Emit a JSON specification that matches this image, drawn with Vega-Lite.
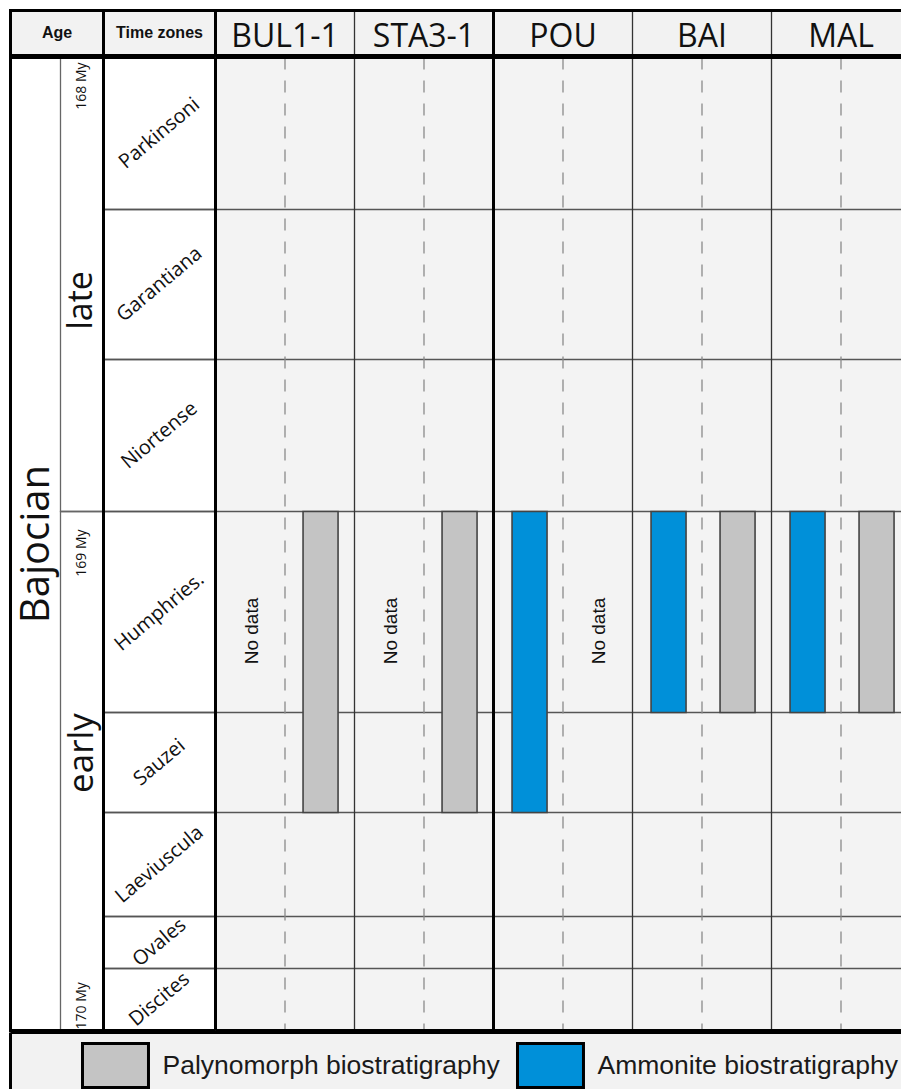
{
  "$schema": "https://vega.github.io/schema/vega-lite/v6.json",
  "background": "white",
  "padding": {"left": 8.5, "top": 8.5, "right": 0, "bottom": 0},
  "spacing": -3,
  "config": {
    "view": {"stroke": null},
    "concat": {"spacing": 0},
    "axis": {"disable": true},
    "legend": {"disable": true}
  },
  "datasets": {
    "zones": [
      {"zone": "Parkinsoni", "top": 0, "base": 152},
      {"zone": "Garantiana", "top": 152, "base": 302},
      {"zone": "Niortense", "top": 302, "base": 454},
      {"zone": "Humphries.", "top": 454, "base": 655},
      {"zone": "Sauzei", "top": 655, "base": 755},
      {"zone": "Laeviuscula", "top": 755, "base": 859},
      {"zone": "Ovales", "top": 859, "base": 911},
      {"zone": "Discites", "top": 911, "base": 973}
    ],
    "substages": [
      {"substage": "late", "top": 0, "base": 454},
      {"substage": "early", "top": 454, "base": 973}
    ],
    "sites": [
      {"site": "BUL1-1"}, {"site": "STA3-1"}, {"site": "POU"}, {"site": "BAI"}, {"site": "MAL"}
    ],
    "legend": [
      {"record": "Palynomorph", "label": "Palynomorph biostratigraphy"},
      {"record": "Ammonite", "label": "Ammonite biostratigraphy"}
    ]
  },
  "vconcat": [
    {
      "bounds": "flush",
      "spacing": 0,
      "hconcat": [
        {
          "width": 93, "height": 45,
          "view": {"fill": "#f2f2f2"},
          "data": {"values": [{"heading": "Age"}]},
          "layer": [
            {"mark": {"type": "text", "font": "Liberation Sans", "fontWeight": "bold", "fontSize": 16, "color": "#111"},
             "encoding": {"text": {"field": "heading"}}},
            {"mark": {"type": "rect", "fill": "transparent", "stroke": "black", "strokeWidth": 3}, "encoding": {}}
          ]
        },
        {
          "width": 112, "height": 45,
          "view": {"fill": "#f2f2f2"},
          "data": {"values": [{"heading": "Time zones"}]},
          "layer": [
            {"mark": {"type": "text", "font": "Liberation Sans", "fontWeight": "bold", "fontSize": 16, "color": "#111"},
             "encoding": {"text": {"field": "heading"}}},
            {"mark": {"type": "rect", "fill": "transparent", "stroke": "black", "strokeWidth": 3}, "encoding": {}}
          ]
        },
        {
          "width": 686, "height": 45,
          "view": {"fill": "#f2f2f2"},
          "data": {"name": "sites"},
          "layer": [
            {"mark": {"type": "text", "font": "Open Sans", "fontSize": 32, "color": "#111"},
             "encoding": {
               "x": {"field": "site", "type": "nominal",
                     "scale": {"domain": ["BUL1-1", "STA3-1", "POU", "BAI", "MAL"], "range": [0, 695], "paddingInner": 0, "paddingOuter": 0}},
               "text": {"field": "site"},
               "y": {"datum": "name", "type": "nominal", "bandPosition": 0.58, "scale": {"paddingInner": 0, "paddingOuter": 0}}}},
            {"mark": {"type": "rule", "stroke": "#333", "strokeWidth": 1.3},
             "encoding": {"x": {"field": "site", "type": "nominal", "bandPosition": 0}}},
            {"transform": [{"filter": {"field": "site", "oneOf": ["BUL1-1", "POU"]}}],
             "mark": {"type": "rule", "stroke": "black", "strokeWidth": 3},
             "encoding": {"x": {"field": "site", "type": "nominal", "bandPosition": 0}}},
            {"mark": {"type": "rule", "stroke": "black", "strokeWidth": 3},
             "encoding": {"y": {"datum": "name", "type": "nominal", "bandPosition": 0}}},
            {"mark": {"type": "rule", "stroke": "black", "strokeWidth": 3},
             "encoding": {"y": {"datum": "name", "type": "nominal", "bandPosition": 1}}}
          ]
        }
      ]
    },
    {
      "bounds": "flush",
      "spacing": 0,
      "hconcat": [
        {
          "width": 93, "height": 973,
          "view": {"fill": "white"},
          "layer": [
            {
              "data": {"name": "substages"},
              "mark": {"type": "rect", "fill": "transparent", "stroke": "#666", "strokeWidth": 1.3},
              "encoding": {
                "x": {"datum": "substage", "type": "nominal",
                      "scale": {"domain": ["stage", "substage"], "paddingInner": 0, "paddingOuter": 0.081395, "align": 1}},
                "y": {"field": "top", "type": "quantitative", "scale": {"domain": [0, 973], "reverse": true, "nice": false}},
                "y2": {"field": "base"}
              }
            },
            {
              "data": {"name": "substages"},
              "transform": [
                {"filter": {"field": "substage", "equal": "late"}},
                {"fold": ["top", "base"], "as": ["edge", "depth"]},
                {"aggregate": [{"op": "mean", "field": "depth", "as": "mid"}], "groupby": ["substage"]}
              ],
              "mark": {"type": "text", "font": "Open Sans", "fontSize": 34, "angle": 270, "color": "#111", "dx": -16},
              "encoding": {
                "x": {"datum": "substage", "type": "nominal"},
                "y": {"field": "mid", "type": "quantitative"},
                "text": {"field": "substage"}
              }
            },
            {
              "data": {"name": "substages"},
              "transform": [
                {"filter": {"field": "substage", "equal": "early"}},
                {"fold": ["top", "base"], "as": ["edge", "depth"]},
                {"aggregate": [{"op": "mean", "field": "depth", "as": "mid"}], "groupby": ["substage"]}
              ],
              "mark": {"type": "text", "font": "Open Sans", "fontSize": 35, "angle": 270, "color": "#111", "dx": 18},
              "encoding": {
                "x": {"datum": "substage", "type": "nominal"},
                "y": {"field": "mid", "type": "quantitative"},
                "text": {"field": "substage"}
              }
            },
            {
              "data": {"values": [{"stage": "Bajocian", "top": 0, "base": 973}]},
              "transform": [
                {"fold": ["top", "base"], "as": ["edge", "depth"]},
                {"aggregate": [{"op": "mean", "field": "depth", "as": "mid"}], "groupby": ["stage"]}
              ],
              "mark": {"type": "text", "font": "Open Sans", "fontSize": 40, "angle": 270, "color": "#111", "dy": -2},
              "encoding": {
                "x": {"datum": "stage", "type": "nominal"},
                "y": {"field": "mid", "type": "quantitative"},
                "text": {"field": "stage"}
              }
            },
            {
              "data": {"values": [
                {"label": "168 My", "age": 0},
                {"label": "169 My", "age": 454},
                {"label": "170 My", "age": 973}
              ]},
              "layer": [
                {
                  "transform": [{"filter": {"field": "label", "equal": "168 My"}}],
                  "mark": {"type": "text", "font": "Open Sans", "fontSize": 14, "angle": 270, "align": "right", "dx": -5, "color": "#111"},
                  "encoding": {
                    "x": {"datum": "substage", "type": "nominal"},
                    "y": {"field": "age", "type": "quantitative"},
                    "text": {"field": "label"}
                  }
                },
                {
                  "transform": [{"filter": {"field": "label", "equal": "169 My"}}],
                  "mark": {"type": "text", "font": "Open Sans", "fontSize": 14, "angle": 270, "align": "right", "dx": -18, "color": "#111"},
                  "encoding": {
                    "x": {"datum": "substage", "type": "nominal"},
                    "y": {"field": "age", "type": "quantitative"},
                    "text": {"field": "label"}
                  }
                },
                {
                  "transform": [{"filter": {"field": "label", "equal": "170 My"}}],
                  "mark": {"type": "text", "font": "Open Sans", "fontSize": 14, "angle": 270, "align": "left", "dx": 1, "color": "#111"},
                  "encoding": {
                    "x": {"datum": "substage", "type": "nominal"},
                    "y": {"field": "age", "type": "quantitative"},
                    "text": {"field": "label"}
                  }
                }
              ]
            },
            {
              "data": {"values": [{"frame": "age"}]},
              "mark": {"type": "rect", "fill": "transparent", "stroke": "black", "strokeWidth": 3},
              "encoding": {}
            }
          ]
        },
        {
          "width": 112, "height": 973,
          "view": {"fill": "white"},
          "layer": [
            {
              "data": {"name": "zones"},
              "mark": {"type": "rect", "fill": "transparent", "stroke": "#555", "strokeWidth": 1.3},
              "encoding": {
                "y": {"field": "top", "type": "quantitative", "scale": {"domain": [0, 973], "reverse": true, "nice": false}},
                "y2": {"field": "base"}
              }
            },
            {
              "data": {"name": "zones"},
              "transform": [
                {"fold": ["top", "base"], "as": ["edge", "depth"]},
                {"aggregate": [{"op": "mean", "field": "depth", "as": "mid"}], "groupby": ["zone"]}
              ],
              "mark": {"type": "text", "font": "Open Sans", "fontSize": 20, "angle": 320, "color": "#111"},
              "encoding": {
                "y": {"field": "mid", "type": "quantitative"},
                "text": {"field": "zone"}
              }
            },
            {
              "data": {"values": [{"frame": "zones"}]},
              "mark": {"type": "rect", "fill": "transparent", "stroke": "black", "strokeWidth": 3},
              "encoding": {}
            }
          ]
        },
        {
          "width": 686, "height": 973,
          "view": {"fill": "#f3f3f3"},
          "layer": [
            {
              "data": {"name": "zones"},
              "mark": {"type": "rule", "stroke": "#555", "strokeWidth": 1.3},
              "encoding": {
                "y": {"field": "top", "type": "quantitative", "scale": {"domain": [0, 973], "reverse": true, "nice": false}}
              }
            },
            {
              "data": {"name": "sites"},
              "mark": {"type": "rule", "stroke": "#333", "strokeWidth": 1.3},
              "encoding": {
                "x": {"field": "site", "type": "nominal", "bandPosition": 0,
                      "scale": {"domain": ["BUL1-1", "STA3-1", "POU", "BAI", "MAL"], "range": [0, 695], "paddingInner": 0, "paddingOuter": 0}}
              }
            },
            {
              "data": {"name": "sites"},
              "mark": {"type": "rule", "stroke": "#8a8a8a", "strokeWidth": 1.3, "strokeDash": [12, 11]},
              "encoding": {
                "x": {"field": "site", "type": "nominal", "bandPosition": 0.5}
              }
            },
            {
              "data": {"values": [
                {"site": "BUL1-1", "record": "Palynomorph", "top": 454, "base": 755},
                {"site": "STA3-1", "record": "Palynomorph", "top": 454, "base": 755},
                {"site": "POU", "record": "Ammonite", "top": 454, "base": 755},
                {"site": "BAI", "record": "Ammonite", "top": 454, "base": 655},
                {"site": "BAI", "record": "Palynomorph", "top": 454, "base": 655},
                {"site": "MAL", "record": "Ammonite", "top": 454, "base": 655},
                {"site": "MAL", "record": "Palynomorph", "top": 454, "base": 655}
              ]},
              "mark": {"type": "rect", "stroke": "#444", "strokeWidth": 1.6},
              "encoding": {
                "x": {"field": "site", "type": "nominal"},
                "xOffset": {"field": "record", "type": "nominal",
                            "scale": {"domain": ["Ammonite", "Palynomorph"], "paddingInner": 0.4928, "paddingOuter": 0.2536, "align": 0.53}},
                "y": {"field": "top", "type": "quantitative"},
                "y2": {"field": "base"},
                "color": {"field": "record", "type": "nominal",
                          "scale": {"domain": ["Ammonite", "Palynomorph"], "range": ["#0090d9", "#c4c4c4"]}, "legend": null}
              }
            },
            {
              "data": {"values": [
                {"site": "BUL1-1", "record": "Ammonite", "top": 454, "base": 655, "note": "No data"},
                {"site": "STA3-1", "record": "Ammonite", "top": 454, "base": 655, "note": "No data"},
                {"site": "POU", "record": "Palynomorph", "top": 454, "base": 655, "note": "No data"}
              ]},
              "transform": [
                {"fold": ["top", "base"], "as": ["edge", "depth"]},
                {"aggregate": [{"op": "mean", "field": "depth", "as": "mid"}], "groupby": ["site", "record", "note"]}
              ],
              "mark": {"type": "text", "font": "Liberation Sans", "fontSize": 19, "angle": 270, "dx": -19, "color": "#111"},
              "encoding": {
                "x": {"field": "site", "type": "nominal"},
                "xOffset": {"field": "record", "type": "nominal"},
                "y": {"field": "mid", "type": "quantitative"},
                "text": {"field": "note"}
              }
            },
            {
              "data": {"name": "sites"},
              "transform": [{"filter": {"field": "site", "oneOf": ["BUL1-1", "POU"]}}],
              "mark": {"type": "rule", "stroke": "black", "strokeWidth": 3},
              "encoding": {
                "x": {"field": "site", "type": "nominal", "bandPosition": 0}
              }
            },
            {
              "data": {"name": "zones"},
              "transform": [{"filter": {"field": "zone", "equal": "Parkinsoni"}}],
              "mark": {"type": "rule", "stroke": "black", "strokeWidth": 3},
              "encoding": {"y": {"field": "top", "type": "quantitative"}}
            },
            {
              "data": {"name": "zones"},
              "transform": [{"filter": {"field": "zone", "equal": "Discites"}}],
              "mark": {"type": "rule", "stroke": "black", "strokeWidth": 3},
              "encoding": {"y": {"field": "base", "type": "quantitative"}}
            }
          ]
        }
      ]
    },
    {
      "width": 891, "height": 61,
      "view": {"fill": "#f2f2f2"},
      "data": {"name": "legend"},
      "layer": [
        {
          "transform": [{"filter": {"field": "record", "equal": "Palynomorph"}}],
          "mark": {"type": "rule", "stroke": "black", "strokeWidth": 3},
          "encoding": {
            "x": {"field": "label", "type": "nominal", "bandPosition": 0,
                  "scale": {"domain": ["Palynomorph biostratigraphy", "Ammonite biostratigraphy"], "range": [0, 870], "paddingInner": 0, "paddingOuter": 0}}
          }
        },
        {
          "transform": [{"filter": {"field": "record", "equal": "Palynomorph"}}],
          "mark": {"type": "rule", "stroke": "black", "strokeWidth": 3},
          "encoding": {
            "y": {"datum": "key", "type": "nominal", "bandPosition": 0, "scale": {"paddingInner": 0, "paddingOuter": 0}}
          }
        },
        {
          "mark": {"type": "rect", "stroke": "black", "strokeWidth": 3},
          "encoding": {
            "x": {"field": "label", "type": "nominal", "bandPosition": 0.1655},
            "x2": {"field": "label", "bandPosition": 0.3172},
            "y": {"datum": "key", "type": "nominal", "bandPosition": 0.1803},
            "y2": {"datum": "key", "bandPosition": 0.9016},
            "color": {"field": "record", "type": "nominal",
                      "scale": {"domain": ["Ammonite", "Palynomorph"], "range": ["#008ed4", "#b9bdbd"]}, "legend": null}
          }
        },
        {
          "mark": {"type": "text", "font": "Liberation Sans", "fontSize": 26.5, "align": "left", "color": "#1a1a1a"},
          "encoding": {
            "x": {"field": "label", "type": "nominal", "bandPosition": 0.3494},
            "y": {"datum": "key", "type": "nominal", "bandPosition": 0.541},
            "text": {"field": "label"}
          }
        }
      ]
    }
  ]
}
